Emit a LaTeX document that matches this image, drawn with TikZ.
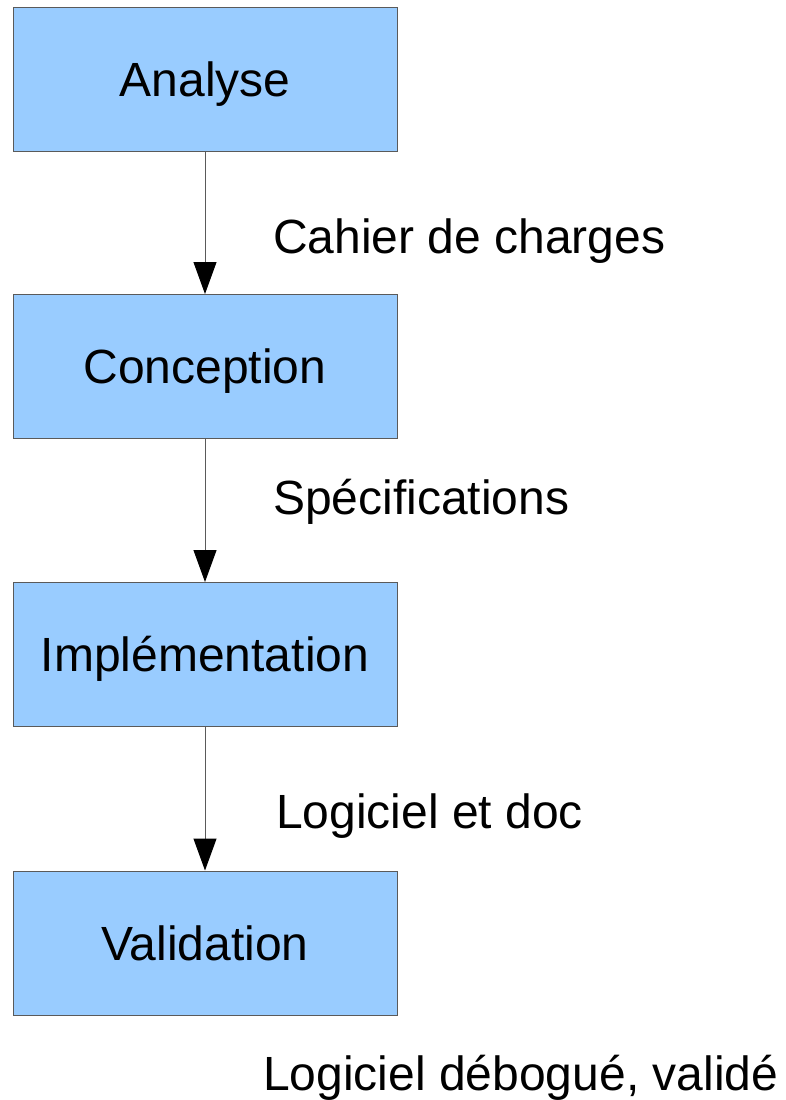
\documentclass[tikz,border=0pt]{standalone}
\usepackage{fontspec}
\setmainfont{Liberation Sans}
\usetikzlibrary{arrows.meta,positioning}

\definecolor{boxblue}{HTML}{99CCFF}
\definecolor{edgegray}{HTML}{5A5A5A}

\tikzset{
  phase/.style={draw=edgegray, line width=1pt, fill=boxblue,
    minimum width=384pt, minimum height=144pt, inner sep=0pt,
    text height=34pt, text depth=0pt,
    font=\fontsize{48}{57}\selectfont},
  livrable/.style={anchor=base west, inner sep=0pt,
    font=\fontsize{48}{57}\selectfont},
  flux/.style={draw=edgegray, line width=1pt,
    -{Triangle[length=32pt,width=23pt,fill=black,color=black]}}
}

\begin{document}
\begin{tikzpicture}[x=1pt, y=1pt]

  % cadre de l'image
  \useasboundingbox (0,0) rectangle (786,-1100);

  % les quatre phases
  \node[phase] (analyse) at (205,-79) {Analyse};
  \node[phase] (conception) at (205,-366.5) {Conception};
  \node[phase] (implementation) at (205,-654.5) {Implémentation};
  \node[phase] (validation) at (205,-943) {Validation};

  % fleches entre les phases
  \draw[flux] (analyse) -- (conception);
  \draw[flux] (conception) -- (implementation);
  \draw[flux] (implementation) -- (validation);

  % livrables
  \node[livrable] (cahier) at (273,-253) {Cahier de charges};
  \node[livrable] (specs) at (273,-514) {Spécifications};
  \node[livrable] (logdoc) at (276,-828) {Logiciel et doc};
  \node[livrable] (logvalide) at (263,-1090) {Logiciel débogué, validé};

\end{tikzpicture}
\end{document}
